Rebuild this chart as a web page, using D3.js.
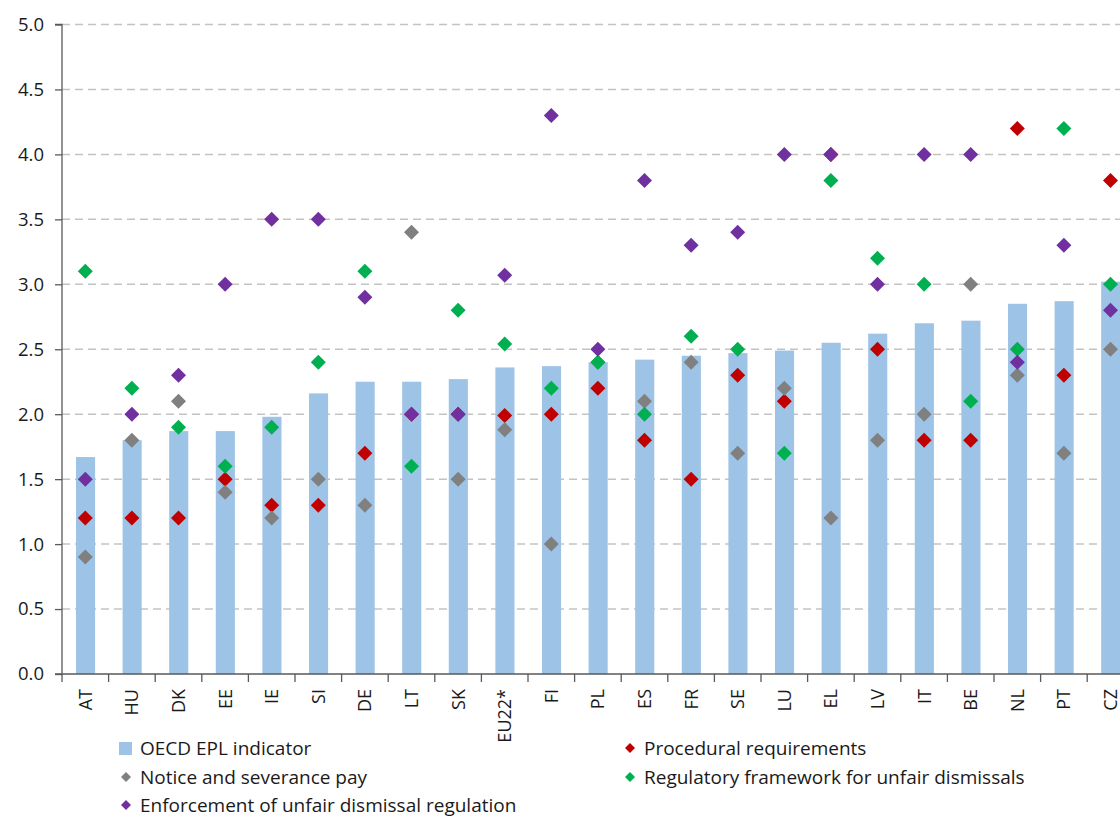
<!DOCTYPE html>
<html>
<head>
<meta charset="utf-8">
<script src="https://cdn.jsdelivr.net/npm/d3@7"></script>
<style>
  html, body { margin: 0; padding: 0; background: #fff; }
  svg { display: block; font-family: "Open Sans", Lato, sans-serif; }
</style>
</head>
<body>
<svg id="chart" width="1120" height="819"></svg>
<script>
const categories = ["AT","HU","DK","EE","IE","SI","DE","LT","SK","EU22*","FI","PL","ES","FR","SE","LU","EL","LV","IT","BE","NL","PT","CZ"];
const eplIndicator = [1.67,1.80,1.87,1.87,1.98,2.16,2.25,2.25,2.27,2.36,2.37,2.40,2.42,2.45,2.47,2.49,2.55,2.62,2.70,2.72,2.85,2.87,3.02];
const procedural   = [1.2,1.2,1.2,1.5,1.3,1.3,1.7,2.0,2.0,1.99,2.0,2.2,1.8,1.5,2.3,2.1,4.0,2.5,1.8,1.8,4.2,2.3,3.8];
const notice       = [0.9,1.8,2.1,1.4,1.2,1.5,1.3,3.4,1.5,1.88,1.0,2.4,2.1,2.4,1.7,2.2,1.2,1.8,2.0,3.0,2.3,1.7,2.5];
const regulatory   = [3.1,2.2,1.9,1.6,1.9,2.4,3.1,1.6,2.8,2.54,2.2,2.4,2.0,2.6,2.5,1.7,3.8,3.2,3.0,2.1,2.5,4.2,3.0];
const enforcement  = [1.5,2.0,2.3,3.0,3.5,3.5,2.9,2.0,2.0,3.07,4.3,2.5,3.8,3.3,3.4,4.0,4.0,3.0,4.0,4.0,2.4,3.3,2.8];
const yTicks = [0,0.5,1,1.5,2,2.5,3,3.5,4,4.5,5];

const seriesNames = {
  epl: "OECD EPL indicator",
  proc: "Procedural requirements",
  notice: "Notice and severance pay",
  reg: "Regulatory framework for unfair dismissals",
  enf: "Enforcement of unfair dismissal regulation"
};
const colors = { epl: "#9DC3E6", proc: "#C00000", notice: "#808080", reg: "#00B050", enf: "#7030A0" };

const svg = d3.select("#chart");
const plotLeft = 62, plotTop = 24.5, plotBottom = 674, step = 46.6;
const x = d3.scaleBand().domain(categories).range([plotLeft, plotLeft + step * categories.length]).padding(0);
const y = d3.scaleLinear().domain([0, 5]).range([plotBottom, plotTop]);
const bw = x.bandwidth();

// gridlines
svg.append("g").selectAll("line").data(yTicks.filter(d => d > 0)).join("line")
  .attr("x1", plotLeft).attr("x2", 1120)
  .attr("y1", d => y(d)).attr("y2", d => y(d))
  .attr("stroke", "#c3c3c3").attr("stroke-width", 1.5).attr("stroke-dasharray", "8,5");

// bars
svg.append("g").selectAll("rect").data(categories).join("rect")
  .attr("x", (d) => x(d) + bw * 0.3)
  .attr("width", bw * 0.41)
  .attr("y", (d, i) => y(eplIndicator[i]))
  .attr("height", (d, i) => plotBottom - y(eplIndicator[i]))
  .attr("fill", colors.epl);

// axes
const yAxis = svg.append("g").attr("transform", `translate(${plotLeft},0)`)
  .call(d3.axisLeft(y).tickValues(yTicks).tickFormat(d3.format(".1f")).tickSize(7).tickPadding(11));
yAxis.select(".domain").attr("stroke", "#595959").attr("stroke-width", 1.3).attr("d", `M-7,${plotTop}H0V${plotBottom}`);
yAxis.selectAll(".tick line").attr("stroke", "#595959").attr("stroke-width", 1.3);
yAxis.selectAll(".tick text").attr("font-size", 18.5).attr("fill", "#1a1a1a").attr("font-family", "'Open Sans', sans-serif");

const xAxisG = svg.append("g").attr("transform", `translate(0,${plotBottom})`);
xAxisG.append("line").attr("x1", plotLeft - 7).attr("x2", 1120).attr("y1", 0).attr("y2", 0)
  .attr("stroke", "#595959").attr("stroke-width", 1.3);
xAxisG.selectAll("line.tk").data(categories.concat(["__end"])).join("line").attr("class", "tk")
  .attr("x1", (d, i) => plotLeft + i * step).attr("x2", (d, i) => plotLeft + i * step)
  .attr("y1", 0).attr("y2", 8).attr("stroke", "#595959").attr("stroke-width", 1.3);
xAxisG.selectAll("text.lbl").data(categories).join("text").attr("class", "lbl")
  .attr("transform", d => `translate(${x(d) + bw / 2 + 6.5},15) rotate(-90)`)
  .attr("text-anchor", "end")
  .attr("font-size", 18).attr("fill", "#1a1a1a")
  .text(d => d);

// diamond markers
const diamond = (r) => `M0,${-r}L${r},0L0,${r}L${-r},0Z`;
const markerSeries = [
  ["proc", procedural], ["notice", notice], ["reg", regulatory], ["enf", enforcement]
];
markerSeries.forEach(([key, vals]) => {
  svg.append("g").selectAll("path").data(categories).join("path")
    .attr("d", diamond(7.5))
    .attr("transform", (d, i) => `translate(${x(d) + bw / 2},${y(vals[i])})`)
    .attr("fill", colors[key]);
});

// legend
const lg = svg.append("g").attr("font-size", 19).attr("fill", "#1a1a1a");
const legendItems = [
  { key: "epl", x: 118, y: 748, type: "square" },
  { key: "proc", x: 622, y: 748, type: "diamond" },
  { key: "notice", x: 118, y: 777, type: "diamond" },
  { key: "reg", x: 622, y: 777, type: "diamond" },
  { key: "enf", x: 118, y: 805, type: "diamond" }
];
legendItems.forEach(it => {
  if (it.type === "square") {
    lg.append("rect").attr("x", it.x + 1).attr("y", it.y - 6).attr("width", 13).attr("height", 13).attr("fill", colors[it.key]);
  } else {
    lg.append("path").attr("d", diamond(5)).attr("transform", `translate(${it.x + 8},${it.y})`).attr("fill", colors[it.key]);
  }
  lg.append("text").attr("x", it.x + 22).attr("y", it.y).attr("dy", "0.36em").text(seriesNames[it.key]);
});
</script>
</body>
</html>
